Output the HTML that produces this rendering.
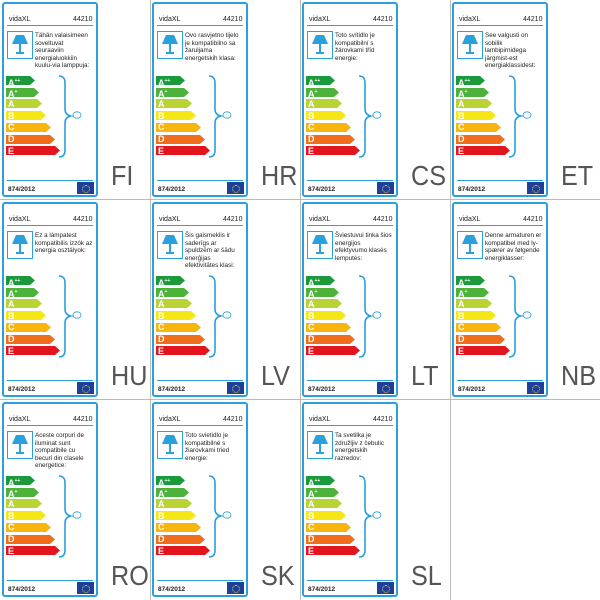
<!DOCTYPE html>
<html><head><meta charset="utf-8"><style>
body{margin:0;background:#fff;width:600px;height:600px;overflow:hidden;position:relative;font-family:"Liberation Sans",sans-serif}
.v{position:absolute;top:0;width:1px;height:600px;background:#bbb}
.h{position:absolute;left:0;height:1px;width:600px;background:#bbb}
.lab{position:absolute;width:96px;height:195px;border:2px solid #2aa0dc;border-radius:3px;box-sizing:border-box}
.t{position:absolute;font-size:7px;color:#222}
.code{position:absolute;font-size:28px;color:#555;font-family:"Liberation Sans",sans-serif;transform:scaleX(0.9);transform-origin:left top}
</style></head><body>
<div class="v" style="left:150px"></div><div class="v" style="left:300px"></div><div class="v" style="left:450px"></div>
<div class="h" style="top:199px"></div><div class="h" style="top:399px"></div>
<div id="root"></div>
<script>
var items=[["FI","Tähän valaisimeen soveltuvat seuraaviin energialuokkiin kuulu-via lamppuja:"],
["HR","Ovo rasvjetno tijelo je kompatibilno sa žaruljama energetskih klasa:"],
["CS","Toto svítidlo je kompatibilní s žárovkami tříd energie:"],
["ET","See valgusti on sobilik lambipirnidega järgmist-est energiaklassidest:"],
["HU","Ez a lámpatest kompatibilis izzók az energia osztályok:"],
["LV","Šis gaismeklis ir saderīgs ar spuldzēm ar šādu enerģijas efektivitātes klasi:"],
["LT","Šviestuvui tinka šios energijos efektyvumo klasės lemputės:"],
["NB","Denne armaturen er kompatibel med ly-spærer av følgende energiklasser:"],
["RO","Aceste corpuri de iluminat sunt compatibile cu becuri din clasele energetice:"],
["SK","Toto svietidlo je kompatibilné s žiarovkami tried energie:"],
["SL","Ta svetilka je združljiv z čebulic energetskih razredov:"]];
var cols=["#1a9a3a","#4cb23a","#b9d234","#f5e716","#f7b50e","#ef6d1b","#e2151e"];
var lets=["A<sup>++</sup>","A<sup>+</sup>","A","B","C","D","E"];
var ws=[24,28,31,35,40,44,49];
var h="";
items.forEach(function(it,i){
var cx=(i%4)*150, cy=Math.floor(i/4)*200;
var x=cx+2,y=cy+2;
h+='<div class="lab" style="left:'+x+'px;top:'+y+'px"></div>';
h+='<div class="t" style="left:'+(x+7)+'px;top:'+(y+14)+'px">vidaXL</div>';
h+='<div class="t" style="left:'+(x+71)+'px;top:'+(y+14)+'px">44210</div>';
h+='<div style="position:absolute;left:'+(x+5)+'px;top:'+(y+23)+'px;width:86px;height:1px;background:#2aa0dc"></div>';
h+='<div style="position:absolute;left:'+(x+5)+'px;top:'+(y+29)+'px;width:26px;height:28px;border:1px solid #2aa0dc;box-sizing:border-box"></div>';
h+='<svg style="position:absolute;left:'+(x+9)+'px;top:'+(y+33)+'px" width="18" height="20"><polygon points="5,0 13,0 17,9 1,9" fill="#2aa0dc"/><rect x="8" y="9" width="2" height="8" fill="#2aa0dc"/><rect x="5" y="17" width="8" height="2" fill="#2aa0dc"/></svg>';
h+='<div class="t" style="left:'+(x+33)+'px;top:'+(y+30)+'px;width:58px;font-size:6.3px;line-height:7.5px">'+it[1]+'</div>';
for(var k=0;k<7;k++){var by=y+74+k*11.7, w=ws[k];
h+='<svg style="position:absolute;left:'+(x+4)+'px;top:'+by+'px" width="'+(w+6)+'" height="9"><polygon points="0,0 '+w+',0 '+(w+5)+',4.5 '+w+',9 0,9" fill="'+cols[k]+'"/></svg>';
h+='<div style="position:absolute;left:'+(x+6)+'px;top:'+(by-0.5)+'px;font-size:9px;line-height:10px;color:#fff;font-weight:bold">'+lets[k].replace('<sup>','<sup style="font-size:5px;vertical-align:4px">')+'</div>';}
h+='<svg style="position:absolute;left:'+(x+54)+'px;top:'+(y+73)+'px" width="30" height="84"><path d="M3,1 Q9,1 9,8 L9,34 Q9,40 15,41 Q9,42 9,48 L9,75 Q9,82 3,82" fill="none" stroke="#2aa0dc" stroke-width="1.6"/><ellipse cx="21" cy="40" rx="4" ry="3.2" fill="none" stroke="#2aa0dc" stroke-width="0.8"/><path d="M15,41 L17,41" stroke="#2aa0dc"/></svg>';
h+='<div style="position:absolute;left:'+(x+5)+'px;top:'+(y+178)+'px;width:86px;height:1px;background:#2aa0dc"></div>';
h+='<div class="t" style="left:'+(x+6)+'px;top:'+(y+184)+'px;font-weight:bold;font-size:6.5px">874/2012</div>';
h+='<div style="position:absolute;left:'+(x+75)+'px;top:'+(y+180)+'px;width:17px;height:12px;background:#1d3f99"></div>';
h+='<div style="position:absolute;left:'+(x+80)+'px;top:'+(y+183)+'px;width:6px;height:6px;border:1px dotted #ffd200;border-radius:50%"></div>';
h+='<div class="code" style="left:'+(cx+111)+'px;top:'+(cy+160)+'px">'+it[0]+'</div>';
});
document.getElementById('root').innerHTML=h;
</script>
</body></html>
